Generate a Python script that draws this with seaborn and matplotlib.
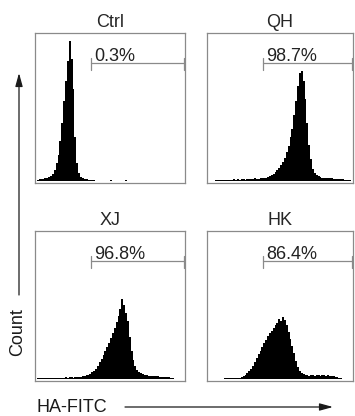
import numpy as np
import pandas as pd
import matplotlib
matplotlib.use("Agg")
import matplotlib.pyplot as plt
from matplotlib.patches import FancyArrowPatch
import seaborn as sns

# Panel names and gated percentages
samples = ["Ctrl", "QH", "XJ", "HK"]
gate_labels = ["0.3%", "98.7%", "96.8%", "86.4%"]

# HA-FITC histogram: 80 log bins over 4 decades (bin width 0.05), counts
ctrl_counts = [0, 1, 2, 2, 2, 3, 3, 4, 5, 7,
               11, 18, 26, 40, 58, 80, 100, 120, 140, 122,
               92, 44, 18, 8, 4, 3, 2, 2, 1, 1,
               1, 1, 0, 0, 0, 0, 0, 0, 0, 0,
               1, 0, 0, 0, 0, 0, 0, 0, 1, 0,
               0, 0, 0, 0, 0, 0, 0, 0, 0, 0,
               0, 0, 0, 0, 0, 0, 0, 0, 0, 0,
               0, 0, 0, 0, 0, 0, 0, 0, 0, 0]
qh_counts = [0, 0, 0, 0, 1, 1, 1, 1, 1, 1,
             1, 1, 1, 1, 2, 1, 2, 1, 2, 2,
             1, 2, 2, 2, 2, 3, 2, 2, 3, 3,
             3, 3, 4, 5, 6, 7, 9, 11, 13, 16,
             19, 23, 29, 35, 44, 52, 66, 80, 95, 108,
             110, 100, 82, 58, 36, 22, 12, 8, 6, 5,
             4, 3, 3, 3, 3, 3, 3, 2, 2, 2,
             2, 2, 2, 1, 1, 1, 1, 0, 0, 0]
xj_counts = [0, 1, 1, 1, 1, 1, 1, 1, 1, 1,
             1, 1, 1, 1, 1, 1, 2, 1, 2, 2,
             1, 2, 2, 2, 2, 3, 3, 4, 4, 5,
             7, 8, 10, 13, 17, 20, 24, 28, 32, 36,
             41, 46, 51, 57, 63, 70, 80, 74, 66, 58,
             42, 28, 19, 13, 9, 7, 6, 5, 4, 4,
             3, 3, 3, 3, 3, 3, 2, 2, 2, 2,
             2, 2, 1, 1, 0, 0, 0, 0, 0, 0]
hk_counts = [0, 0, 0, 0, 0, 0, 0, 0, 0, 1,
             1, 1, 1, 1, 1, 1, 1, 1, 2, 3,
             4, 6, 8, 10, 13, 17, 21, 25, 28, 32,
             36, 39, 43, 46, 48, 51, 54, 56, 60, 58,
             62, 59, 54, 47, 40, 33, 26, 18, 12, 8,
             6, 5, 4, 4, 3, 4, 4, 3, 4, 4,
             3, 4, 4, 3, 4, 3, 3, 3, 2, 2,
             1, 1, 0, 0, 0, 0, 0, 0, 0, 0]
all_counts = [ctrl_counts, qh_counts, xj_counts, hk_counts]

n_bins = 80
edges = np.linspace(0, 4, n_bins + 1)
centers = (edges[:-1] + edges[1:]) / 2
gate_lo = 1.49

sns.set_theme(style="white")
plt.rcParams["font.family"] = ["Liberation Sans", "DejaVu Sans"]

W, H = 355, 416
fig = plt.figure(figsize=(W / 100, H / 100), dpi=100)

# panel boxes in pixels: left, top, width, height
boxes = [(35, 33, 150, 150), (207, 33, 146, 150),
         (35, 231, 150, 150), (207, 231, 146, 150)]
frame = "#8a8a8a"

for name, lab, counts, (px, py, pw, ph) in zip(samples, gate_labels, all_counts, boxes):
    ax = fig.add_axes([px / W, 1 - (py + ph) / H, pw / W, ph / H])
    df = pd.DataFrame({"log_fitc": centers, "count": counts})
    sns.histplot(data=df, x="log_fitc", weights="count", bins=n_bins,
                 binrange=(0, 4), element="step", fill=True, color="black",
                 alpha=1, linewidth=0, ax=ax)
    xmax = pw / 37.5
    ax.set_xlim(0, xmax)
    ax.set_ylim(-2, 148)
    ax.set_xticks([])
    ax.set_yticks([])
    ax.set_xlabel("")
    ax.set_ylabel("")
    for s in ax.spines.values():
        s.set_color(frame)
        s.set_linewidth(0.9)
    ax.set_title(name, fontsize=13, pad=4.5)
    # gate marker
    gate_hi = min(3.97, xmax - 0.02)
    ax.plot([gate_lo, gate_hi], [118, 118], color=frame, lw=0.9, clip_on=False)
    for gx in (gate_lo, gate_hi):
        ax.plot([gx, gx], [111, 123], color=frame, lw=0.9, clip_on=False)
    ax.text(gate_lo + 0.08, 120, lab, fontsize=13, ha="left", va="baseline",
            color="#222222")

ink = "#1a1a1a"
arrow_style = "-|>,head_length=0.8,head_width=0.22"
fig.add_artist(FancyArrowPatch((19 / W, 1 - 295 / H), (19 / W, 1 - 73 / H),
                               transform=fig.transFigure, arrowstyle=arrow_style,
                               mutation_scale=10, lw=0.9, color=ink,
                               shrinkA=0, shrinkB=0))
fig.add_artist(FancyArrowPatch((125 / W, 1 - 407 / H), (333 / W, 1 - 407 / H),
                               transform=fig.transFigure, arrowstyle=arrow_style,
                               mutation_scale=10, lw=0.9, color=ink,
                               shrinkA=0, shrinkB=0))
fig.text(18 / W, 1 - 332 / H, "Count", rotation=90, fontsize=13,
         ha="center", va="center", color=ink)
fig.text(37 / W, 1 - 408 / H, "HA-FITC", fontsize=13,
         ha="left", va="center", color=ink)

fig.savefig("out.png", dpi=100)
